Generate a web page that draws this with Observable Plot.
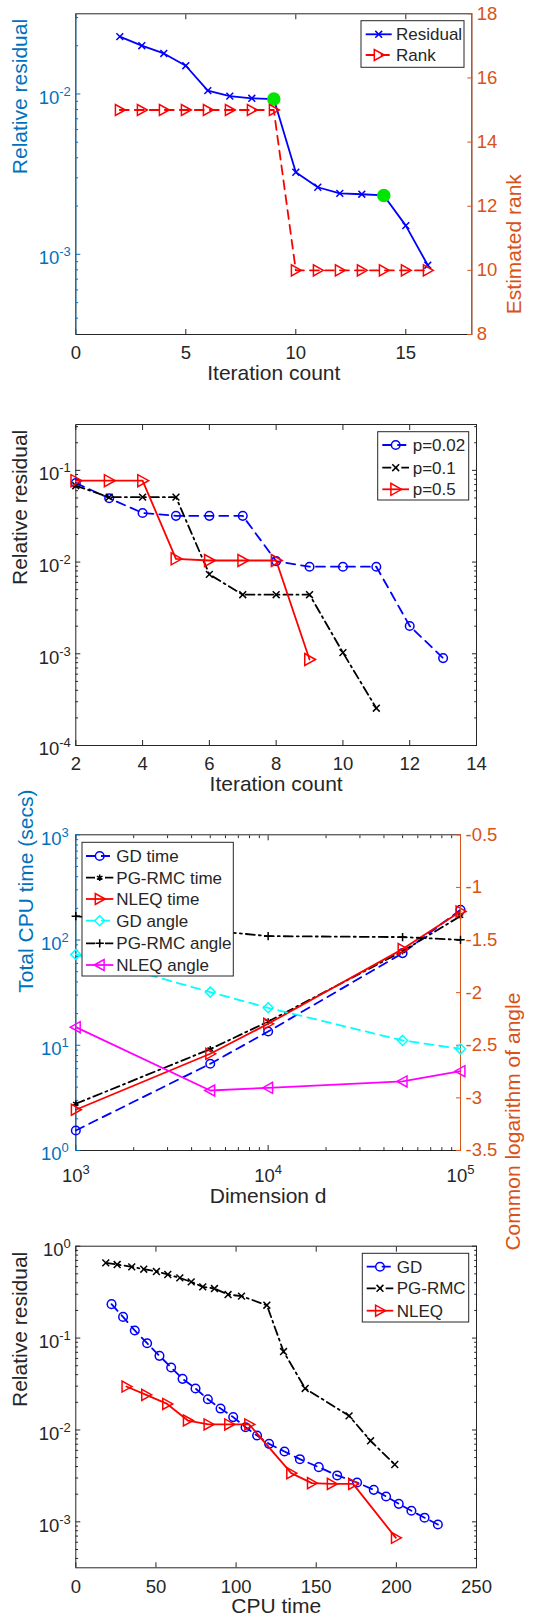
<!DOCTYPE html>
<html>
<head>
<meta charset="utf-8">
<script src="https://cdn.jsdelivr.net/npm/d3@7"></script>
<script src="https://cdn.jsdelivr.net/npm/@observablehq/plot@0.6"></script>
<style>
  html, body { margin: 0; padding: 0; background: #fff; overflow: hidden; }
  #root { position: relative; width: 549px; height: 1620px; overflow: hidden; background: #fff;
          font-family: "Liberation Sans", Arial, Helvetica, sans-serif; }
</style>
</head>
<body>
<div id="root"></div>
<script>
// ================= DATA =================
// Panel 1: residual & rank vs iteration
const p1Iter = [2, 3, 4, 5, 6, 7, 8, 9, 10, 11, 12, 13, 14, 15, 16];
const p1Residual = [0.0228, 0.0200, 0.0179, 0.0150, 0.0105, 0.0097, 0.0094, 0.0093, 0.00325, 0.00262, 0.0024, 0.00237, 0.00233, 0.00151, 0.000855];
const p1Rank = [15, 15, 15, 15, 15, 15, 15, 15, 10, 10, 10, 10, 10, 10, 10];
const p1HighlightIter = [9, 14];
const p1HighlightResidual = [0.0093, 0.00233];
const p1XTicks = [0, 5, 10, 15];
const p1LeftTicks = [1e-3, 1e-2];
const p1RightTicks = [8, 10, 12, 14, 16, 18];

// Panel 2: residual vs iteration for different p
const p2Iter02 = [2, 3, 4, 5, 6, 7, 8, 9, 10, 11, 12, 13];
const p2Res02 = [0.0728, 0.0497, 0.0343, 0.0319, 0.0319, 0.0319, 0.01025, 0.0089, 0.0089, 0.0089, 0.00201, 0.000897];
const p2Iter01 = [2, 3, 4, 5, 6, 7, 8, 9, 10, 11];
const p2Res01 = [0.068, 0.051, 0.051, 0.051, 0.00734, 0.00441, 0.00441, 0.00441, 0.00103, 0.000255];
const p2Iter05 = [2, 3, 4, 5, 6, 7, 8, 9];
const p2Res05 = [0.0772, 0.0772, 0.0772, 0.01086, 0.0104, 0.0104, 0.0104, 0.000867];
const p2XTicks = [2, 4, 6, 8, 10, 12, 14];
const p2YTicks = [1e-4, 1e-3, 1e-2, 1e-1];

// Panel 3: CPU time and angle vs dimension
const p3Dim = [1000, 5000, 10000, 50000, 100000];
const p3GDTime = [1.55, 6.67, 13.5, 75.1, 194];
const p3PGTime = [2.78, 9.19, 16.8, 78.3, 169];
const p3NLEQTime = [2.44, 8.3, 16.0, 82, 187];
const p3GDAngle = [-1.637, -1.995, -2.144, -2.454, -2.534];
const p3PGAngle = [-1.273, -1.41, -1.463, -1.472, -1.498];
const p3NLEQAngle = [-2.328, -2.93, -2.904, -2.844, -2.746];
const p3XTicks = [1e3, 1e4, 1e5];
const p3LeftTicks = [1, 10, 100, 1000];
const p3RightTicks = [-3.5, -3, -2.5, -2, -1.5, -1, -0.5];

// Panel 4: residual vs CPU time
const p4GDTime = [22.3, 29.5, 36.8, 44.5, 52.2, 59.5, 66.6, 74.7, 82.4, 90.3, 98.2, 105.9, 113.1, 120.6, 130.2, 139.8, 151.6, 163.1, 175.5, 185.9, 193.6, 201.5, 209.4, 217.6, 225.9];
const p4GDRes = [0.234, 0.170, 0.121, 0.0879, 0.0641, 0.0479, 0.0360, 0.0283, 0.0216, 0.0171, 0.0138, 0.0107, 0.0087, 0.00706, 0.00583, 0.00481, 0.00394, 0.00320, 0.00268, 0.00223, 0.00189, 0.00157, 0.00132, 0.00111, 0.000936];
const p4PGTime = [18.7, 25.8, 34.9, 42.4, 50.3, 57.4, 64.9, 72.0, 79.2, 86.5, 95.0, 103.4, 119.2, 129.6, 143.1, 170.5, 183.9, 199.0];
const p4PGRes = [0.659, 0.632, 0.596, 0.562, 0.530, 0.492, 0.452, 0.409, 0.361, 0.346, 0.298, 0.286, 0.228, 0.0714, 0.0283, 0.01425, 0.00762, 0.00421];
const p4NLEQTime = [31.6, 43.9, 57.0, 69.9, 82.8, 95.7, 108.2, 134.4, 147.3, 159.7, 173.0, 199.7];
const p4NLEQRes = [0.0297, 0.0241, 0.0192, 0.01267, 0.01148, 0.01148, 0.01148, 0.00339, 0.00264, 0.00259, 0.00259, 0.00067];
const p4XTicks = [0, 50, 100, 150, 200, 250];
const p4YTicks = [1e-3, 1e-2, 1e-1, 1];

// ================= STYLE =================
const W = 549, H = 1620;
const FONT = '"Liberation Sans", Arial, Helvetica, sans-serif';
const TXT = "#262626";
const AX_BLUE = "#0072BD", AX_ORANGE = "#D95319";
const TICK_FS = 18.5, LABEL_FS = 21, LEG_FS = 17;
const MAJ = 5, MIN = 2.8;
const LW = 1.8, MSW = 1.5;
const DASH = "9,6", DASHDOT = "9,4,2,4";

const triRight = { draw(c, s) { const h = Math.sqrt(s / Math.PI); c.moveTo(h, 0); c.lineTo(-h * 0.8, -h); c.lineTo(-h * 0.8, h); c.closePath(); } };
const triLeft = { draw(c, s) { const h = Math.sqrt(s / Math.PI); c.moveTo(-h, 0); c.lineTo(h * 0.8, -h); c.lineTo(h * 0.8, h); c.closePath(); } };

const supFmt = d => "10^" + Math.round(Math.log10(d));
const numFmt = d => String(d);
const minorLog = dom => d3.scaleLog().domain(dom).ticks()
  .filter(v => Math.abs(Math.log10(v) - Math.round(Math.log10(v))) > 1e-6);

function series(xs, ys, { stroke, dash, symbol, r }) {
  const data = xs.map((x, i) => ({ x, y: ys[i] }));
  return [
    Plot.line(data, { x: "x", y: "y", stroke, strokeWidth: LW, strokeDasharray: dash }),
    symbol ? Plot.dot(data, { x: "x", y: "y", symbol, r, stroke, fill: "none", strokeWidth: MSW }) : null
  ];
}
function xTicks(ticks, minor) {
  const m = [
    Plot.axisX({ ticks, anchor: "bottom", tickSize: MAJ, dy: -MAJ, fill: "none", stroke: TXT, label: null }),
    Plot.axisX({ ticks, anchor: "top", tickSize: MAJ, dy: MAJ, fill: "none", stroke: TXT, label: null })
  ];
  if (minor && minor.length) m.push(
    Plot.axisX({ ticks: minor, anchor: "bottom", tickSize: MIN, dy: -MIN, fill: "none", stroke: TXT, label: null }),
    Plot.axisX({ ticks: minor, anchor: "top", tickSize: MIN, dy: MIN, fill: "none", stroke: TXT, label: null }));
  return m;
}
function xLabels(ticks, fmt, pad) {
  return Plot.axisX({ ticks, anchor: "bottom", tickSize: 0, tickPadding: pad, tickFormat: fmt, fill: TXT, fontSize: TICK_FS, label: null });
}
function yTicks(ticks, minor, anchor, color) {
  const s = anchor === "left" ? 1 : -1;
  const m = [Plot.axisY({ ticks, anchor, tickSize: MAJ, dx: s * MAJ, fill: "none", stroke: color, label: null })];
  if (minor && minor.length) m.push(Plot.axisY({ ticks: minor, anchor, tickSize: MIN, dx: s * MIN, fill: "none", stroke: color, label: null }));
  return m;
}
function yLabels(ticks, fmt, anchor, color, pad, dy = 0) {
  return Plot.axisY({ ticks, anchor, tickSize: 0, tickPadding: pad, tickFormat: fmt, fill: color, fontSize: TICK_FS, dy, label: null });
}
function title(txt, opts) {
  return Plot.text([txt], { text: d => d, fontSize: LABEL_FS, fill: TXT, ...opts });
}

const root = document.getElementById("root");
function place(svg, top) {
  svg.style.position = "absolute";
  svg.style.left = "0px";
  svg.style.top = top + "px";
  svg.style.background = "transparent";
  svg.style.overflow = "visible";
  svg.style.fontFamily = FONT;
  svg.style.maxWidth = "none";
  root.appendChild(svg);
  // superscript exponents on "10^k" labels
  svg.querySelectorAll("text").forEach(t => {
    const m = /^10\^(-?\d+)$/.exec(t.textContent);
    if (!m) return;
    t.textContent = "10";
    const ts = document.createElementNS("http://www.w3.org/2000/svg", "tspan");
    ts.setAttribute("dy", "-8");
    ts.setAttribute("font-size", "13");
    ts.textContent = m[1];
    t.appendChild(ts);
  });
}

// ================= PANEL 1 =================
{
  const dims = { width: W, height: 400, marginLeft: 75.3, marginRight: 77.7, marginTop: 13.3, marginBottom: 66 };
  const xDom = [0, 18];
  const yDom = [Math.pow(10, -3.5), Math.pow(10, -1.5)];
  const left = Plot.plot({
    ...dims,
    x: { domain: xDom }, y: { type: "log", domain: yDom },
    marks: [
      Plot.frame({ stroke: TXT }),
      ...xTicks(p1XTicks, []),
      xLabels(p1XTicks, numFmt, 11),
      ...yTicks(p1LeftTicks, minorLog(yDom), "left", AX_BLUE),
      yLabels(p1LeftTicks, supFmt, "left", AX_BLUE, 5, 4),
      Plot.ruleX([xDom[0]], { stroke: AX_BLUE }),
      ...series(p1Iter, p1Residual, { stroke: "#0000ff", symbol: d3.symbolTimes, r: 3.2 }),
      Plot.dot(p1HighlightIter.map((x, i) => ({ x, y: p1HighlightResidual[i] })),
        { x: "x", y: "y", r: 6, fill: "#00e600", stroke: "#00e600" }),
      title("Iteration count", { frameAnchor: "bottom", dy: 45.5 }),
      title("Relative residual", { frameAnchor: "left", dx: -56, rotate: -90, fill: AX_BLUE })
    ]
  });
  place(left, 0);
  const right = Plot.plot({
    ...dims,
    x: { domain: xDom, axis: null }, y: { domain: [8, 18] },
    marks: [
      ...yTicks(p1RightTicks, [], "right", AX_ORANGE),
      yLabels(p1RightTicks, numFmt, "right", AX_ORANGE, 5),
      Plot.ruleX([xDom[1]], { stroke: AX_ORANGE }),
      ...series(p1Iter, p1Rank, { stroke: "#ff0000", dash: DASH, symbol: triRight, r: 5.5 }),
      title("Estimated rank", { frameAnchor: "right", dx: 42, rotate: -90, fill: AX_ORANGE })
    ]
  });
  place(right, 0);
}

// ================= PANEL 2 =================
{
  const dims = { width: W, height: 400, marginLeft: 75.3, marginRight: 73, marginTop: 24, marginBottom: 55 };
  const xDom = [2, 14];
  const yDom = [1e-4, Math.pow(10, -0.5)];
  const p = Plot.plot({
    ...dims,
    x: { domain: xDom }, y: { type: "log", domain: yDom },
    marks: [
      Plot.frame({ stroke: TXT }),
      ...xTicks(p2XTicks, []),
      xLabels(p2XTicks, numFmt, 11),
      ...yTicks(p2YTicks, minorLog(yDom), "left", TXT),
      ...yTicks(p2YTicks, minorLog(yDom), "right", TXT),
      yLabels(p2YTicks, supFmt, "left", TXT, 5, 4),
      ...series(p2Iter02, p2Res02, { stroke: "#0000ff", dash: DASH, symbol: d3.symbolCircle, r: 4.3 }),
      ...series(p2Iter01, p2Res01, { stroke: "#000000", dash: DASHDOT, symbol: d3.symbolTimes, r: 3.2 }),
      ...series(p2Iter05, p2Res05, { stroke: "#ff0000", symbol: triRight, r: 6 }),
      title("Iteration count", { frameAnchor: "bottom", dy: 45 }),
      title("Relative residual", { frameAnchor: "left", dx: -56, rotate: -90 })
    ]
  });
  place(p, 400);
}

// ================= PANEL 3 =================
{
  const dims = { width: W, height: 410, marginLeft: 75.3, marginRight: 89, marginTop: 34.3, marginBottom: 60 };
  const xDom = [1e3, 1e5];
  const yDom = [1, 1000];
  const left = Plot.plot({
    ...dims,
    x: { type: "log", domain: xDom }, y: { type: "log", domain: yDom },
    marks: [
      Plot.frame({ stroke: TXT }),
      ...xTicks(p3XTicks, minorLog(xDom)),
      xLabels(p3XTicks, supFmt, 18),
      ...yTicks(p3LeftTicks, minorLog(yDom), "left", AX_BLUE),
      yLabels(p3LeftTicks, supFmt, "left", AX_BLUE, 7, 4),
      Plot.ruleX([xDom[0]], { stroke: AX_BLUE }),
      ...series(p3Dim, p3GDTime, { stroke: "#0000ff", dash: DASH, symbol: d3.symbolCircle, r: 4.3 }),
      ...series(p3Dim, p3PGTime, { stroke: "#000000", dash: DASHDOT, symbol: d3.symbolAsterisk, r: 3 }),
      ...series(p3Dim, p3NLEQTime, { stroke: "#ff0000", symbol: triRight, r: 5.5 }),
      title("Dimension d", { frameAnchor: "bottom", dy: 52 }),
      title("Total CPU time (secs)", { frameAnchor: "left", dx: -50, rotate: -90, fill: AX_BLUE })
    ]
  });
  place(left, 800);
  const right = Plot.plot({
    ...dims,
    x: { type: "log", domain: xDom, axis: null }, y: { domain: [-3.5, -0.5] },
    marks: [
      ...yTicks(p3RightTicks, [], "right", AX_ORANGE),
      yLabels(p3RightTicks, numFmt, "right", AX_ORANGE, 5),
      Plot.ruleX([xDom[1]], { stroke: AX_ORANGE }),
      ...series(p3Dim, p3GDAngle, { stroke: "#00ffff", dash: DASH, symbol: d3.symbolDiamond2, r: 4.5 }),
      ...series(p3Dim, p3PGAngle, { stroke: "#000000", dash: DASHDOT, symbol: d3.symbolPlus, r: 2.8 }),
      ...series(p3Dim, p3NLEQAngle, { stroke: "#ff00ff", symbol: triLeft, r: 5.5 }),
      title("Common logarithm of angle", { frameAnchor: "right", dx: 52.7, rotate: -90, fill: AX_ORANGE })
    ]
  });
  place(right, 800);
}

// ================= PANEL 4 =================
{
  const dims = { width: W, height: 410, marginLeft: 75.3, marginRight: 73, marginTop: 35.7, marginBottom: 52.7 };
  const xDom = [0, 250];
  const yDom = [Math.pow(10, -3.5), 1];
  const p = Plot.plot({
    ...dims,
    x: { domain: xDom }, y: { type: "log", domain: yDom },
    marks: [
      Plot.frame({ stroke: TXT }),
      ...xTicks(p4XTicks, []),
      xLabels(p4XTicks, numFmt, 12),
      ...yTicks(p4YTicks, minorLog(yDom), "left", TXT),
      ...yTicks(p4YTicks, minorLog(yDom), "right", TXT),
      yLabels(p4YTicks, supFmt, "left", TXT, 5, 4),
      ...series(p4GDTime, p4GDRes, { stroke: "#0000ff", dash: DASH, symbol: d3.symbolCircle, r: 4.3 }),
      ...series(p4PGTime, p4PGRes, { stroke: "#000000", dash: DASHDOT, symbol: d3.symbolTimes, r: 3.2 }),
      ...series(p4NLEQTime, p4NLEQRes, { stroke: "#ff0000", symbol: triRight, r: 5.5 }),
      title("CPU time", { frameAnchor: "bottom", dy: 45 }),
      title("Relative residual", { frameAnchor: "left", dx: -56, rotate: -90 })
    ]
  });
  place(p, 1210);
}

// ================= LEGENDS =================
const legends = [
  { box: [361, 20.7, 464, 67.3], rows: [34.3, 55], line: [365.7, 391.7], marker: 378.7, text: 396,
    items: [
      { label: "Residual", color: "#0000ff", symbol: d3.symbolTimes, r: 3.2 },
      { label: "Rank", color: "#ff0000", dash: DASH, symbol: triRight, r: 5.5 }
    ] },
  { box: [377.7, 431.7, 468.7, 500], rows: [445, 467.7, 489.3], line: [382.3, 409], marker: 395.7, text: 412.7,
    items: [
      { label: "p=0.02", color: "#0000ff", dash: DASH, symbol: d3.symbolCircle, r: 4.3 },
      { label: "p=0.1", color: "#000000", dash: DASHDOT, symbol: d3.symbolTimes, r: 3.2 },
      { label: "p=0.5", color: "#ff0000", symbol: triRight, r: 6 }
    ] },
  { box: [82, 842.3, 233.3, 976], rows: [856, 877.7, 899, 920.7, 943.3, 965], line: [86, 113.3], marker: 99.7, text: 116.3,
    items: [
      { label: "GD time", color: "#0000ff", dash: DASH, symbol: d3.symbolCircle, r: 4.3 },
      { label: "PG-RMC time", color: "#000000", dash: DASHDOT, symbol: d3.symbolAsterisk, r: 3 },
      { label: "NLEQ time", color: "#ff0000", symbol: triRight, r: 5.5 },
      { label: "GD angle", color: "#00ffff", dash: DASH, symbol: d3.symbolDiamond2, r: 4.5 },
      { label: "PG-RMC angle", color: "#000000", dash: DASHDOT, symbol: d3.symbolPlus, r: 2.8 },
      { label: "NLEQ angle", color: "#ff00ff", symbol: triLeft, r: 5.5 }
    ] },
  { box: [362.3, 1253.3, 468.7, 1322], rows: [1266.7, 1288.3, 1310.7], line: [366.7, 393.3], marker: 380, text: 396.7,
    items: [
      { label: "GD", color: "#0000ff", dash: DASH, symbol: d3.symbolCircle, r: 4.3 },
      { label: "PG-RMC", color: "#000000", dash: DASHDOT, symbol: d3.symbolTimes, r: 3.2 },
      { label: "NLEQ", color: "#ff0000", symbol: triRight, r: 5.5 }
    ] }
];
const lsvg = d3.select(root).append("svg")
  .attr("width", W).attr("height", H)
  .style("position", "absolute").style("left", "0px").style("top", "0px")
  .style("pointer-events", "none");
legends.forEach(L => {
  const g = lsvg.append("g");
  g.append("rect").attr("x", L.box[0]).attr("y", L.box[1])
    .attr("width", L.box[2] - L.box[0]).attr("height", L.box[3] - L.box[1])
    .attr("fill", "#fff").attr("stroke", TXT).attr("stroke-width", 1);
  L.items.forEach((it, i) => {
    const y = L.rows[i];
    g.append("line").attr("x1", L.line[0]).attr("x2", L.line[1]).attr("y1", y).attr("y2", y)
      .attr("stroke", it.color).attr("stroke-width", LW).attr("stroke-dasharray", it.dash || null);
    g.append("path").attr("transform", `translate(${L.marker},${y})`)
      .attr("d", d3.symbol(it.symbol, Math.PI * it.r * it.r)())
      .attr("fill", "none").attr("stroke", it.color).attr("stroke-width", MSW);
    g.append("text").attr("x", L.text).attr("y", y).attr("dy", "0.35em")
      .attr("font-size", LEG_FS).attr("font-family", FONT).attr("fill", TXT).text(it.label);
  });
});
</script>
</body>
</html>
